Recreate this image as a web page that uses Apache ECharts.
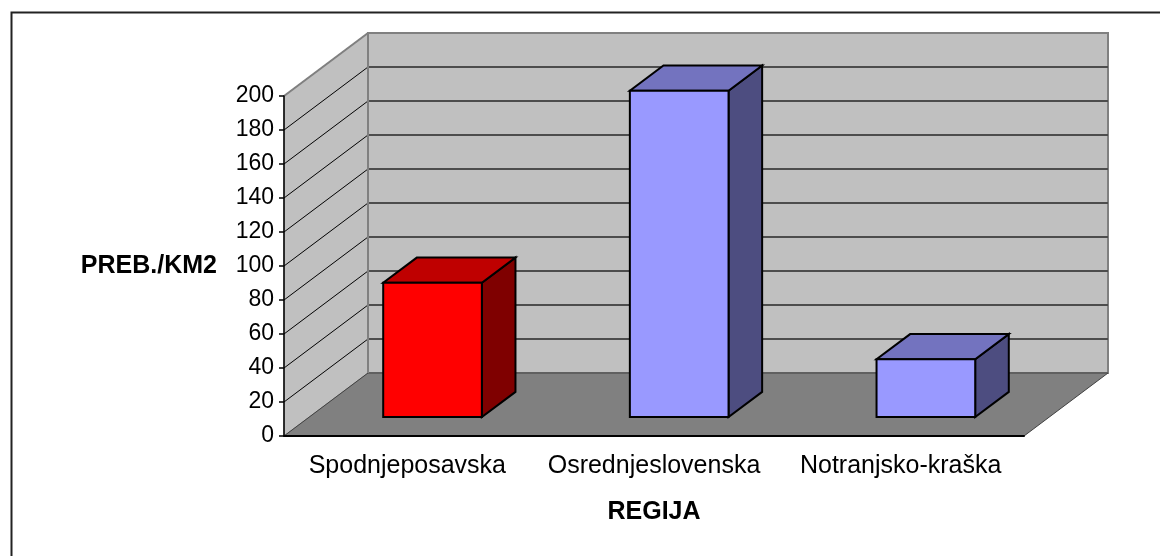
<!DOCTYPE html>
<html>
<head>
<meta charset="utf-8">
<script src="https://cdn.jsdelivr.net/npm/echarts@6/dist/echarts.min.js"></script>
<style>
  html, body { margin: 0; padding: 0; background: #fff; }
  #chart { width: 1160px; height: 556px; }
</style>
</head>
<body>
<div id="chart"></div>
<script>
// data
const regions = ['Spodnjeposavska', 'Osrednjeslovenska', 'Notranjsko-kraška'];
const density = [79, 192, 34];
const yTicks = [0, 20, 40, 60, 80, 100, 120, 140, 160, 180, 200];

document.addEventListener('DOMContentLoaded', () => {
  const chart = echarts.init(document.getElementById('chart'));

  // fake 3d: offset from the front plane to the back wall
  const DX = 84, DY = -63;
  const barFrom = 0.3, barTo = 0.7, barWidth = 0.4;

  const faceColors = [
    { front: '#ff0000', top: '#bf0000', side: '#7f0000' },
    { front: '#9999ff', top: '#7373bf', side: '#4d4d80' }
  ];

  function pts(list, dx, dy) {
    return list.map(p => [p[0] + dx, p[1] + dy]);
  }

  // back wall, side wall, floor and grid lines
  function renderWalls(params, api) {
    const cs = params.coordSys;
    const left = cs.x, right = cs.x + cs.width;
    const y0 = api.coord([0, yTicks[0]])[1];
    const yTop = api.coord([0, yTicks[yTicks.length - 1]])[1];
    const children = [];

    children.push({
      type: 'polygon',
      shape: { points: [[left + DX, yTop + DY], [right + DX, yTop + DY], [right + DX, y0 + DY], [left + DX, y0 + DY]] },
      style: { fill: '#c0c0c0', stroke: '#808080', lineWidth: 2 }
    });
    children.push({
      type: 'polygon',
      shape: { points: [[left, y0], [left, yTop], [left + DX, yTop + DY], [left + DX, y0 + DY]] },
      style: { fill: '#c0c0c0', stroke: '#808080', lineWidth: 1 }
    });
    children.push({
      type: 'polygon',
      shape: { points: [[left, y0], [right, y0], [right + DX, y0 + DY], [left + DX, y0 + DY]] },
      style: { fill: '#808080', stroke: '#404040', lineWidth: 1 }
    });

    yTicks.slice(1, -1).forEach(t => {
      const y = api.coord([0, t])[1];
      children.push({
        type: 'line',
        shape: { x1: left, y1: y, x2: left + DX, y2: y + DY },
        style: { stroke: '#000', lineWidth: 1 }
      });
      children.push({
        type: 'line',
        shape: { x1: left + DX, y1: y + DY, x2: right + DX, y2: y + DY },
        style: { stroke: '#4d4d4d', lineWidth: 2 }
      });
    });
    // wall edges on top of the grid
    children.push({
      type: 'line',
      shape: { x1: left + DX, y1: yTop + DY, x2: left + DX, y2: y0 + DY },
      style: { stroke: '#808080', lineWidth: 2 }
    });
    children.push({
      type: 'line',
      shape: { x1: left, y1: yTop, x2: left + DX, y2: yTop + DY },
      style: { stroke: '#808080', lineWidth: 2 }
    });

    return { type: 'group', children };
  }

  function renderBar(params, api) {
    const idx = api.value(0);
    const top = api.coord([idx, api.value(1)]);
    const base = api.coord([idx, 0]);
    const band = api.size([1, 0])[0];
    const w = band * barWidth;
    const c = faceColors[idx === 0 ? 0 : 1];

    const front = pts([[top[0] - w / 2, top[1]], [top[0] + w / 2, top[1]], [top[0] + w / 2, base[1]], [top[0] - w / 2, base[1]]],
      DX * barFrom, DY * barFrom);
    const d = [DX * (barTo - barFrom), DY * (barTo - barFrom)];
    const topFace = [front[0], front[1], [front[1][0] + d[0], front[1][1] + d[1]], [front[0][0] + d[0], front[0][1] + d[1]]];
    const sideFace = [front[1], front[2], [front[2][0] + d[0], front[2][1] + d[1]], [front[1][0] + d[0], front[1][1] + d[1]]];
    const stroke = { stroke: '#000', lineWidth: 2, lineJoin: 'miter' };

    return {
      type: 'group',
      children: [
        { type: 'polygon', shape: { points: sideFace }, style: Object.assign({ fill: c.side }, stroke) },
        { type: 'polygon', shape: { points: topFace }, style: Object.assign({ fill: c.top }, stroke) },
        { type: 'polygon', shape: { points: front }, style: Object.assign({ fill: c.front }, stroke) }
      ]
    };
  }

  const option = {
    backgroundColor: '#fff',
    animation: false,
    textStyle: { fontFamily: 'Liberation Sans' },
    graphic: [{
      type: 'rect',
      left: 9, top: 10,
      shape: { width: 1200, height: 600 },
      style: { fill: 'none', stroke: '#222', lineWidth: 2 }
    }],
    grid: { left: 284, right: 136, top: 96, bottom: 120 },
    xAxis: {
      type: 'category',
      data: regions,
      z: 5,
      name: 'REGIJA',
      nameLocation: 'middle',
      nameGap: 64,
      nameTextStyle: { fontSize: 25, fontWeight: 'bold', color: '#000' },
      axisLine: { lineStyle: { color: '#000', width: 2 } },
      axisTick: { length: 6, lineStyle: { color: '#000', width: 1.5 } },
      axisLabel: { fontSize: 25, color: '#000', margin: 18, interval: 0, hideOverlap: false },
      splitLine: { show: false }
    },
    yAxis: {
      type: 'value',
      min: 0, max: 200, interval: 20,
      z: 5,
      name: 'PREB./KM2',
      nameLocation: 'middle',
      nameRotate: 0,
      nameGap: 67,
      nameTextStyle: { fontSize: 25, fontWeight: 'bold', color: '#000', align: 'right', verticalAlign: 'middle' },
      axisLine: { show: true, lineStyle: { color: '#000', width: 1.5 } },
      axisTick: { show: true, length: 5, lineStyle: { color: '#000', width: 1.5 } },
      axisLabel: { fontSize: 23, color: '#000', margin: 10 },
      splitLine: { show: false }
    },
    series: [
      {
        type: 'custom',
        z: 1,
        renderItem: renderWalls,
        data: [[0, 0]],
        silent: true
      },
      {
        type: 'custom',
        z: 2,
        renderItem: renderBar,
        data: density.map((v, i) => [i, v])
      }
    ]
  };

  chart.setOption(option);
});
</script>
</body>
</html>
